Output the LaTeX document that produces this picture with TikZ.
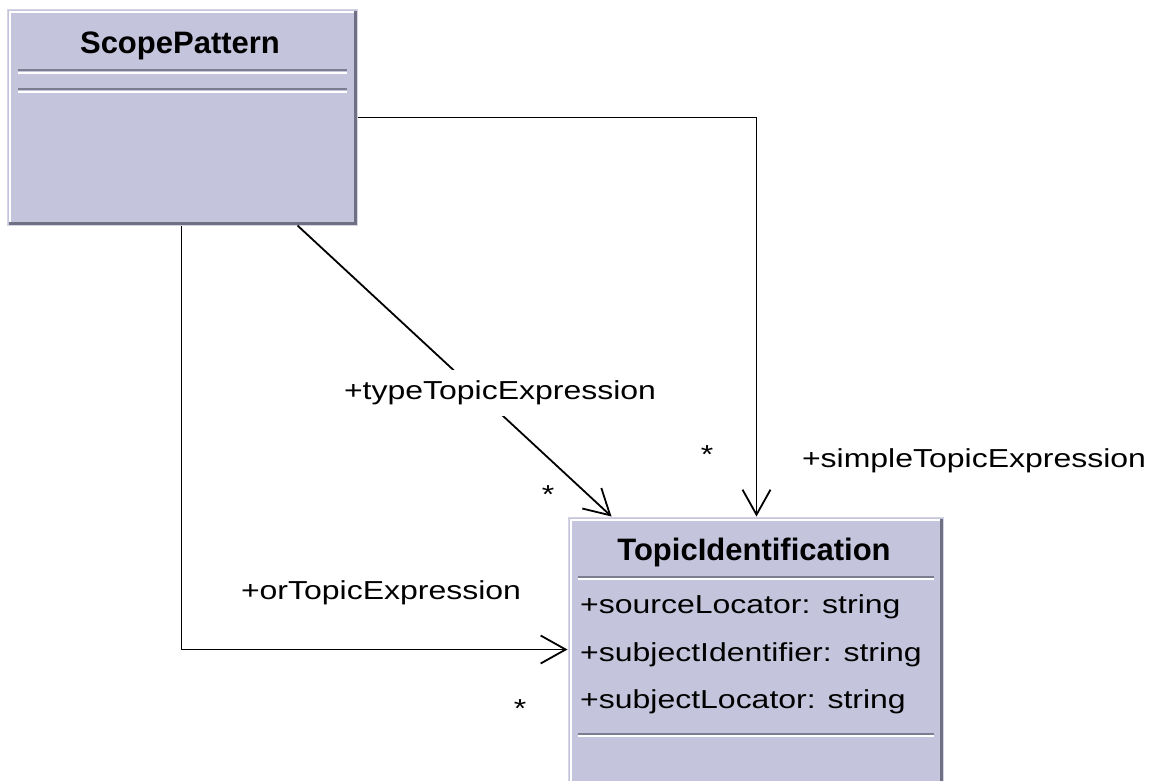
\documentclass[tikz,border=0pt]{standalone}
\usepackage{fontspec}
\setmainfont{Liberation Sans}
\newfontfamily\umlfont[FakeStretch=1.23]{Liberation Sans}
\usetikzlibrary{arrows.meta,calc}
\definecolor{boxfill}{RGB}{196,196,220}
\definecolor{boxedge}{RGB}{212,212,228}
\definecolor{boxshadow}{RGB}{112,112,132}
\definecolor{sepdark}{RGB}{125,125,145}
\tikzset{
  umlbox/.style={rectangle, fill=boxfill, draw=boxedge, line width=1pt, inner sep=0pt},
  titletext/.style={font=\fontsize{31}{36}\selectfont\bfseries, inner sep=0pt},
  plaintext/.style={font=\umlfont\fontsize{26}{30}\selectfont, inner sep=0pt},
  assoc/.style={line width=1.8pt, -{Straight Barb[length=25pt,width=28pt,line width=1.8pt]}},
  hilite/.style={white, line width=2pt},
  shade/.style={boxshadow, line width=3pt},
  sepline/.style={sepdark, line width=2pt},
  sephl/.style={white, line width=2pt}
}
\begin{document}
\begin{tikzpicture}[x=1pt,y=-1pt]
\useasboundingbox (0,0) rectangle (1164,781);
\clip (0,0) rectangle (1164,781);

% ScopePattern box
\node[umlbox, minimum width=350pt, minimum height=215pt] (sp) at (182,117.5) {};
\draw[hilite] ($(sp.south west)+(3,-4)$) -- ($(sp.north west)+(3,3)$) -- ($(sp.north east)+(-4,3)$);
\draw[shade] ($(sp.north east)+(-2,2)$) -- ($(sp.south east)+(-2,-2)$) -- ($(sp.south west)+(2,-2)$);
\node[titletext] (sptitle) at (180,46) {ScopePattern};
\draw[sepline] ($(sp.north west)+(11,61)$) -- ($(sp.north east)+(-11,61)$);
\draw[sephl] ($(sp.north west)+(11,63.5)$) -- ($(sp.north east)+(-11,63.5)$);
\draw[sepline] ($(sp.north west)+(11,80)$) -- ($(sp.north east)+(-11,80)$);
\draw[sephl] ($(sp.north west)+(11,82.5)$) -- ($(sp.north east)+(-11,82.5)$);

% TopicIdentification box
\node[umlbox, minimum width=375pt, minimum height=283pt] (ti) at (755.5,658.5) {};
\draw[hilite] ($(ti.south west)+(3,-4)$) -- ($(ti.north west)+(3,3)$) -- ($(ti.north east)+(-4,3)$);
\draw[shade] ($(ti.north east)+(-2,2)$) -- ($(ti.south east)+(-2,-2)$) -- ($(ti.south west)+(2,-2)$);
\node[titletext] (tititle) at (754,552) {TopicIdentification};
\draw[sepline] ($(ti.north west)+(10,60)$) -- ($(ti.north east)+(-10,60)$);
\draw[sephl] ($(ti.north west)+(10,62.5)$) -- ($(ti.north east)+(-10,62.5)$);
\node[plaintext, anchor=west] (a1) at (580,607) {+sourceLocator: string};
\node[plaintext, anchor=west] (a2) at (580,655) {+subjectIdentifier: string};
\node[plaintext, anchor=west] (a3) at (580,702) {+subjectLocator: string};
\draw[sepline] ($(ti.north west)+(10,217)$) -- ($(ti.north east)+(-10,217)$);
\draw[sephl] ($(ti.north west)+(10,219.5)$) -- ($(ti.north east)+(-10,219.5)$);

% simpleTopicExpression
\draw[assoc] (sp.east) -| ($(ti.north west)+(189,0)$);
\node[plaintext] (simplelbl) at (974,461) {+simpleTopicExpression};
\node[plaintext] (simplemult) at (707,455) {*};

% typeTopicExpression
\draw[assoc] ($(sp.south west)+(291,0)$) -- ($(ti.north west)+(44,0)$);
\node[plaintext, fill=white, minimum height=46pt, inner xsep=3pt] (typelbl) at (500,393) {+typeTopicExpression};
\node[plaintext] (typemult) at (548,495) {*};

% orTopicExpression
\draw[assoc] ($(sp.south west)+(175,0)$) |- ($(ti.north west)+(0,133)$);
\node[plaintext] (orlbl) at (381,593) {+orTopicExpression};
\node[plaintext] (ormult) at (520,709) {*};
\end{tikzpicture}
\end{document}
